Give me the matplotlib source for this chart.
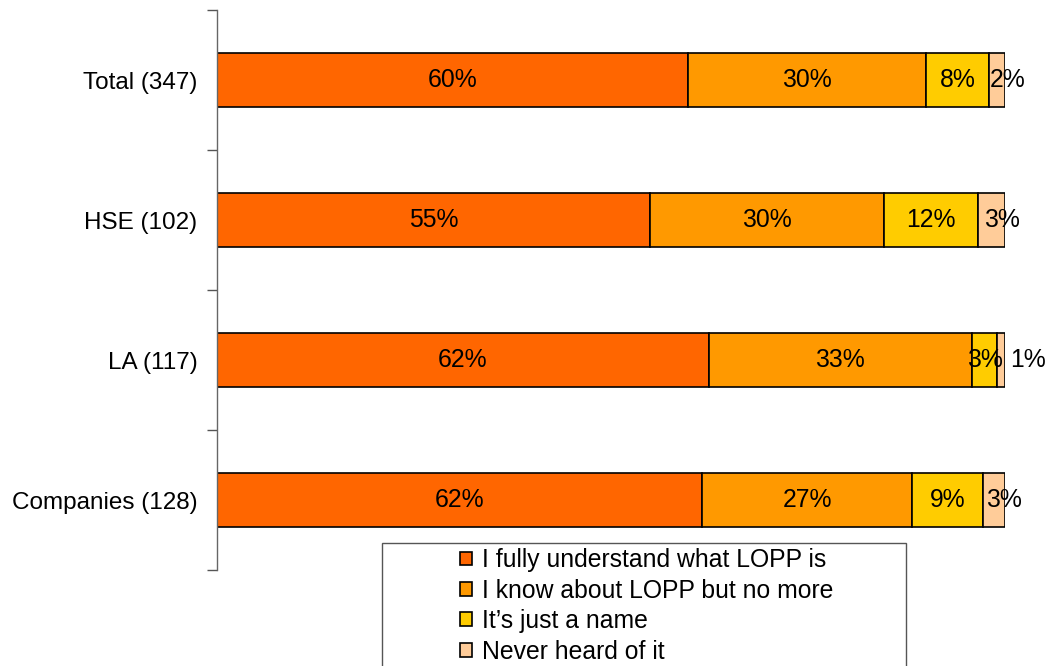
import matplotlib
matplotlib.use("Agg")
import matplotlib.pyplot as plt
from matplotlib.patches import Rectangle
import numpy as np

plt.rcParams['font.family'] = ['Liberation Sans', 'DejaVu Sans']

groups = ["Total (347)", "HSE (102)", "LA (117)", "Companies (128)"]
series = ["I fully understand what LOPP is",
          "I know about LOPP but no more",
          "It\u2019s just a name",
          "Never heard of it"]
fully = [59.8, 54.9, 62.4, 61.6]
know = [30.2, 29.8, 33.4, 26.6]
name = [8.0, 11.9, 3.2, 9.0]
never = [2.0, 3.4, 1.0, 2.8]
colors = ["#FF6600", "#FF9900", "#FFCC00", "#FFCC99"]
# horizontal nudge of the value labels per series (data units)
label_shift = [0.0, 0.0, 0.0, 1.3]

fig = plt.figure(figsize=(10.5, 6.66), dpi=100)
ax = fig.add_axes([217/1050, 1-570/666, (1005-217)/1050, (570-10)/666])

y = np.arange(len(groups))
left = np.zeros(len(groups))
for vals, col, lab, dx in zip([fully, know, name, never], colors, series, label_shift):
    vals = np.array(vals)
    ax.barh(y, vals, left=left, height=0.39, color=col, edgecolor="black",
            linewidth=1.2, label=lab)
    for yi, l, v in zip(y, left, vals):
        txt = f"{v:.0f}%"
        if v < 1.5:
            ax.text(l + v + 0.7, yi, txt, ha="left", va="center", fontsize=17.8)
        else:
            ax.text(l + v / 2 + dx, yi, txt, ha="center", va="center", fontsize=17.8)
    left += vals

ax.set_xlim(0, 100)
ax.set_ylim(len(groups) - 0.5, -0.5)
ax.set_yticks(y)
ax.set_yticklabels(groups, fontsize=17.5)
ax.tick_params(axis="y", which="major", length=0, pad=14)
ax.set_yticks(np.arange(-0.5, len(groups), 1.0), minor=True)
ax.tick_params(axis="y", which="minor", length=7, color="#555555", width=1)
ax.set_xticks([])
for s in ["top", "right", "bottom"]:
    ax.spines[s].set_visible(False)
ax.spines["left"].set_color("#666666")
ax.spines["left"].set_linewidth(1)

# legend frame runs off the bottom edge
fig.patches.append(Rectangle((382/1050, -0.05), (906-382)/1050, 0.05 + (666-543)/666,
                             transform=fig.transFigure, facecolor="white",
                             edgecolor="#555555", linewidth=1, zorder=0))
handles, labels = ax.get_legend_handles_labels()
leg = fig.legend(handles, labels, loc="upper left",
                 bbox_to_anchor=(443/1050, 1-531/666), frameon=False,
                 fontsize=17.8, handlelength=0.48, handleheight=0.48,
                 handletextpad=0.38, labelspacing=0.26, borderpad=0.2)
for h in leg.legend_handles:
    h.set_linewidth(1.2)

fig.savefig("out.png", dpi=100)
